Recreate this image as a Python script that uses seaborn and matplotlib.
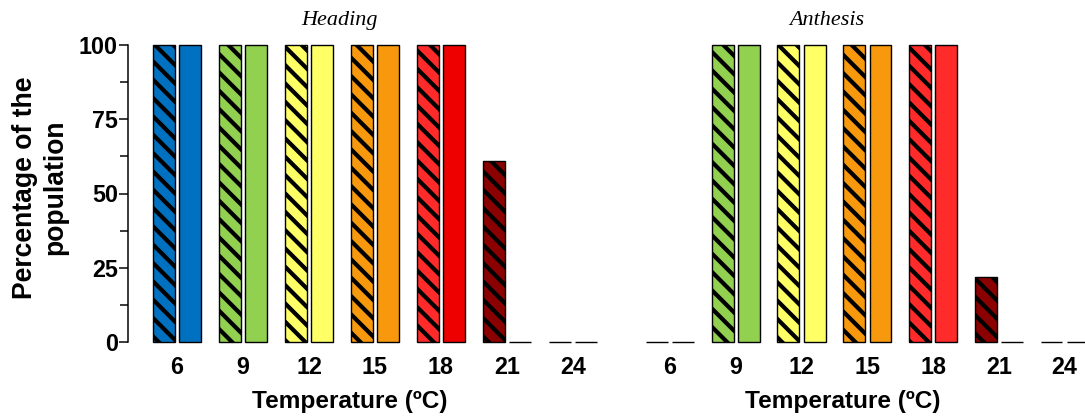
import matplotlib
matplotlib.use("Agg")
import matplotlib.pyplot as plt
import seaborn as sns
import pandas as pd

# ---- data ----
temperatures = ["6", "9", "12", "15", "18", "21", "24"]
heading_hatched = [100, 100, 100, 100, 100, 61, 0]
heading_solid = [100, 100, 100, 100, 100, 0, 0]
anthesis_hatched = [0, 100, 100, 100, 100, 22, 0]
anthesis_solid = [0, 100, 100, 100, 100, 0, 0]
stage_titles = ["Heading", "Anthesis"]
y_ticks = [0, 25, 50, 75, 100]

# colours per temperature (hatched, solid)
heading_colors_h = ["#0070C0", "#92D050", "#FFFF66", "#F8990D", "#FF2A2A", "#8B0000", "#8B0000"]
heading_colors_s = ["#0070C0", "#92D050", "#FFFF66", "#F8990D", "#EE0000", "#8B0000", "#8B0000"]
anthesis_colors_h = ["#0070C0", "#92D050", "#FFFF66", "#F8990D", "#FF2A2A", "#8B0000", "#8B0000"]
anthesis_colors_s = ["#0070C0", "#92D050", "#FFFF66", "#F8990D", "#FF2A2A", "#8B0000", "#8B0000"]

rows = []
for stage, hv, sv in [("Heading", heading_hatched, heading_solid),
                      ("Anthesis", anthesis_hatched, anthesis_solid)]:
    for t, a, b in zip(temperatures, hv, sv):
        rows.append({"stage": stage, "temp": t, "kind": "hatched", "value": a})
        rows.append({"stage": stage, "temp": t, "kind": "solid", "value": b})
df = pd.DataFrame(rows)

DPI = 110
def pt(px):
    return px * 72.0 / DPI

sns.set_style("ticks")
plt.rcParams["font.family"] = ["Liberation Sans", "DejaVu Sans"]
plt.rcParams["hatch.linewidth"] = pt(4.2)
plt.rcParams["hatch.color"] = "black"
plt.rcParams["text.color"] = "black"
plt.rcParams["axes.labelcolor"] = "black"
plt.rcParams["xtick.color"] = "black"
plt.rcParams["ytick.color"] = "black"
plt.rcParams["axes.edgecolor"] = "black"

W, H = 1085, 416
fig = plt.figure(figsize=(W / DPI, H / DPI), dpi=DPI)

def px_ax(x0, x1, ytop, ybot):
    return [x0 / W, 1 - ybot / H, (x1 - x0) / W, (ybot - ytop) / H]

ax1 = fig.add_axes(px_ax(128, 606, 45, 342))
ax2 = fig.add_axes(px_ax(621, 1085, 45, 342))

tick_fs = pt(23.3)
label_fs = pt(24.4)
title_fs = pt(22.2)

specs = [
    (ax1, "Heading", heading_colors_h, heading_colors_s, (-0.742, 6.50), 0.464, 0.442),
    (ax2, "Anthesis", anthesis_colors_h, anthesis_colors_s, (-0.745, 6.31), 0.478, 0.444),
]

for ax, stage, ch, cs, xl, xlab_x, title_x in specs:
    sub = df[df["stage"] == stage]
    sns.barplot(data=sub, x="temp", y="value", hue="kind", order=temperatures,
                hue_order=["hatched", "solid"], width=0.8, gap=0.17,
                errorbar=None, legend=False, ax=ax, linewidth=pt(1.4), edgecolor="black")
    for ci, cont in enumerate(ax.containers):
        cols = ch if ci == 0 else cs
        for bi, bar in enumerate(cont):
            bar.set_facecolor(cols[bi])
            bar.set_edgecolor("black")
            bar.set_clip_on(False)
            if ci == 0:
                bar.set_hatch("\\\\")
    ax.set_xlim(*xl)
    ax.set_ylim(0, 100)
    ax.set_title(stage, fontfamily="Liberation Serif", fontstyle="italic",
                 fontsize=title_fs, x=title_x, y=1.0, pad=pt(20))
    ax.set_xlabel("Temperature (ºC)", fontsize=label_fs, fontweight="bold")
    ax.xaxis.set_label_coords(xlab_x, -0.16)
    ax.tick_params(axis="x", length=0, pad=pt(14), labelsize=tick_fs)
    for lab in ax.get_xticklabels():
        lab.set_fontweight("bold")
    for s in ["top", "right", "bottom"]:
        ax.spines[s].set_visible(False)
    ax.set_facecolor("none")

# y axis only on the left panel
ax1.set_yticks(y_ticks)
ax1.set_yticklabels([str(v) for v in y_ticks], fontweight="bold", fontsize=tick_fs)
ax1.set_yticks([12.5, 37.5, 62.5, 87.5], minor=True)
ax1.tick_params(axis="y", which="major", length=pt(9), width=pt(1.5), pad=pt(1), direction="out")
ax1.tick_params(axis="y", which="minor", length=pt(8), width=pt(1.5), direction="out")
ax1.spines["left"].set_linewidth(pt(1.5))
ax1.set_ylabel("Percentage of the\npopulation", fontsize=pt(26.5), fontweight="bold",
               linespacing=1.22)
ax1.yaxis.label.set_va("center")
ax1.yaxis.set_label_coords(-0.184, 0.52)

ax2.spines["left"].set_visible(False)
ax2.set_yticks([])
ax2.set_ylabel("")

fig.savefig("out.png", dpi=DPI, facecolor="white")
